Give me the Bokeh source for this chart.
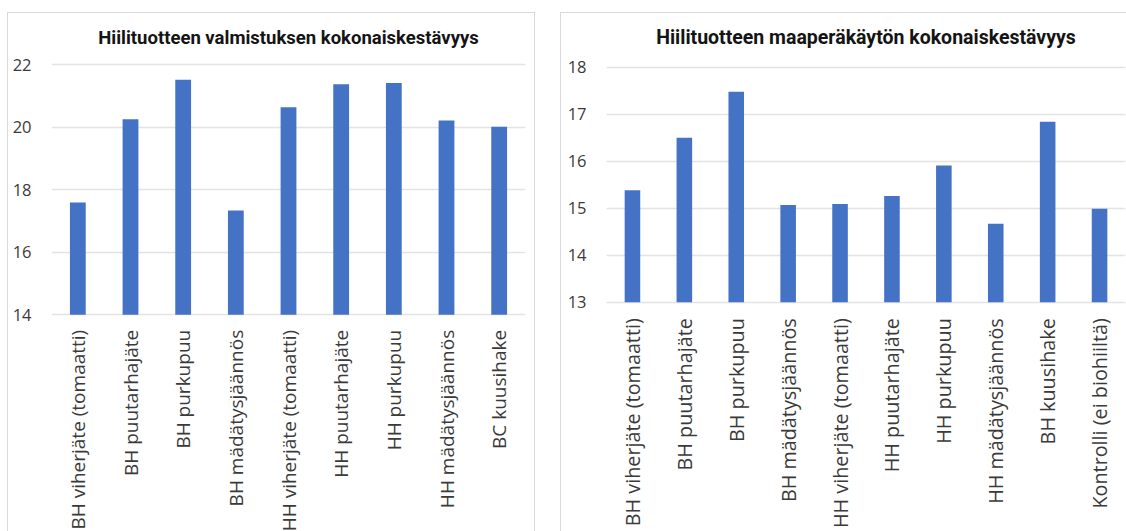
import math
from bokeh.plotting import figure
from bokeh.layouts import row
from bokeh.models import FixedTicker, Range1d, FactorRange
from bokeh.core.properties import value
from bokeh.embed import file_html
from bokeh.resources import INLINE

# ---------------- data ----------------
left_title = "Hiilituotteen valmistuksen kokonaiskestävyys"
left_categories = [
    "BH viherjäte (tomaatti)",
    "BH puutarhajäte",
    "BH purkupuu",
    "BH mädätysjäännös",
    "HH viherjäte (tomaatti)",
    "HH puutarhajäte",
    "HH purkupuu",
    "HH mädätysjäännös",
    "BC kuusihake",
]
left_values = [17.59, 20.26, 21.52, 17.34, 20.64, 21.38, 21.42, 20.22, 20.02]
left_ticks = [14, 16, 18, 20, 22]

right_title = "Hiilituotteen maaperäkäytön kokonaiskestävyys"
right_categories = [
    "BH viherjäte (tomaatti)",
    "BH puutarhajäte",
    "BH purkupuu",
    "BH mädätysjäännös",
    "HH viherjäte (tomaatti)",
    "HH puutarhajäte",
    "HH purkupuu",
    "HH mädätysjäännös",
    "BH kuusihake",
    "Kontrolli (ei biohiiltä)",
]
right_values = [15.38, 16.50, 17.48, 15.07, 15.09, 15.26, 15.91, 14.67, 16.84, 14.99]
right_ticks = [13, 14, 15, 16, 17, 18]

BAR_COLOR = "#4472C4"
GRID_COLOR = "#e3e3e3"
BORDER_COLOR = "#d9d9d9"
TEXT_COLOR = "#3a3a3a"
LABEL_FONT = "Open Sans"
TITLE_FONT = "Roboto"


def make_panel(title, cats, vals, ticks, y_start, y_end, width, height,
               border_left, border_right, title_size, title_offset,
               label_size, label_offset, margin, css):
    p = figure(
        x_range=FactorRange(factors=cats, range_padding=0),
        y_range=Range1d(y_start, y_end),
        width=width, height=height,
        output_backend="svg", toolbar_location=None,
        min_border_left=border_left, min_border_right=border_right,
        min_border_top=40, min_border_bottom=0,
        title=title,
    )
    p.margin = margin
    p.styles = css
    p.outline_line_color = None
    p.background_fill_color = "white"
    p.border_fill_color = "white"

    p.title.align = "center"
    p.title.offset = title_offset
    p.title.text_font = TITLE_FONT
    p.title.text_font_style = "bold"
    p.title.text_font_size = title_size
    p.title.text_color = "#141414"

    p.xaxis.visible = False
    p.xgrid.visible = False

    p.yaxis.ticker = FixedTicker(ticks=ticks)
    p.yaxis.axis_line_color = None
    p.yaxis.major_tick_line_color = None
    p.yaxis.minor_tick_line_color = None
    p.yaxis.major_label_text_font = LABEL_FONT
    p.yaxis.major_label_text_font_size = "16.5px"
    p.yaxis.major_label_text_color = TEXT_COLOR
    p.yaxis.major_label_standoff = 14

    p.ygrid.ticker = FixedTicker(ticks=ticks)
    p.ygrid.grid_line_color = GRID_COLOR
    p.ygrid.grid_line_width = 1.5

    p.vbar(x=cats, top=vals, bottom=ticks[0], width=0.30,
           fill_color=BAR_COLOR, line_color=None)

    p.text(x=cats, y=[ticks[0]] * len(cats), text=cats,
           angle=math.pi / 2, text_align="right", text_baseline="middle",
           y_offset=label_offset,
           text_font=value(LABEL_FONT), text_font_size=label_size,
           text_color=TEXT_COLOR)
    return p


# left frame: 14 at y=313.3, 31.25 px / unit, frame top y=52, bottom y=531
left = make_panel(left_title, left_categories, left_values, left_ticks,
                  y_start=14 - (531 - 313.3) / 31.25,
                  y_end=22 + (63.3 - 52) / 31.25,
                  width=528, height=519, border_left=43, border_right=11,
                  title_size="18.5px", title_offset=7,
                  label_size="19px", label_offset=15,
                  margin=(12, 0, 0, 7),
                  css={"border-top": f"1px solid {BORDER_COLOR}",
                       "border-left": f"1px solid {BORDER_COLOR}",
                       "border-right": f"1px solid {BORDER_COLOR}"})

# right frame: 13 at y=300.7, 47 px / unit
right = make_panel(right_title, right_categories, right_values, right_ticks,
                   y_start=13 - (531 - 300.7) / 47.0,
                   y_end=18 + (65.7 - 52) / 47.0,
                   width=566, height=519, border_left=45, border_right=2,
                   title_size="19.5px", title_offset=-6,
                   label_size="19.8px", label_offset=16,
                   margin=(12, 0, 0, 25),
                   css={"border-top": f"1px solid {BORDER_COLOR}",
                        "border-left": f"1px solid {BORDER_COLOR}"})

layout = row(left, right)
layout.margin = 0

open("out.html", "w").write(file_html(layout, INLINE))
